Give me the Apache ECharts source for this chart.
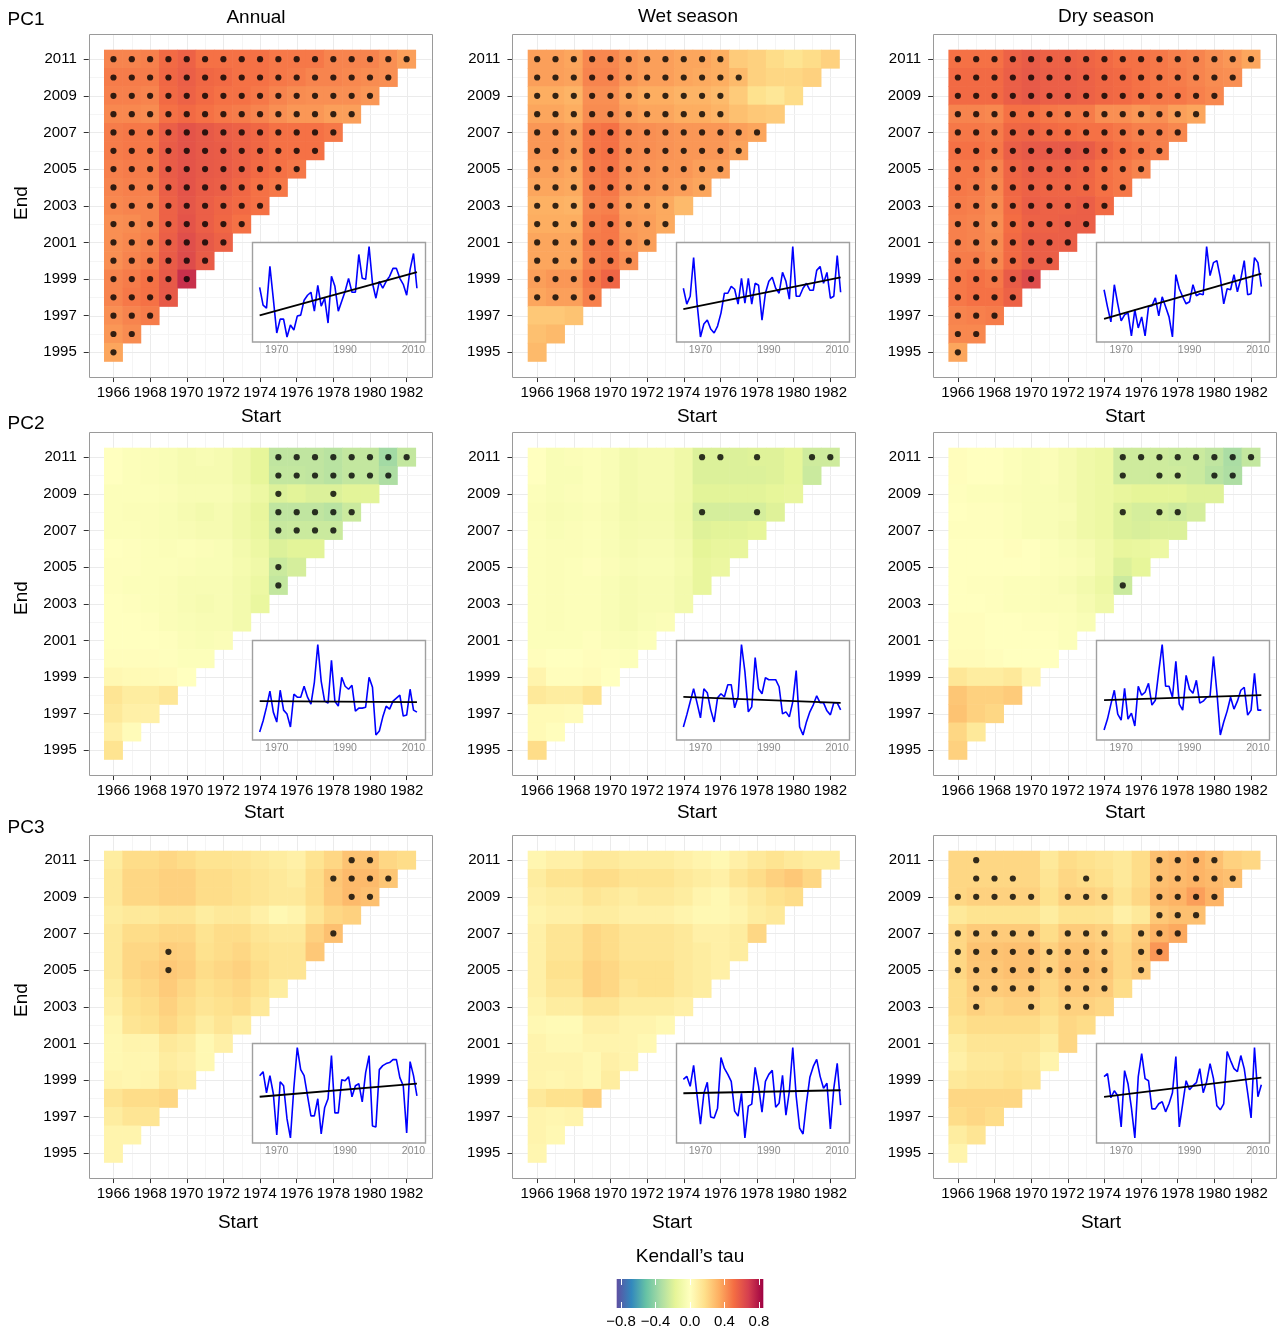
<!DOCTYPE html>
<html><head><meta charset="utf-8">
<script src="https://cdn.jsdelivr.net/npm/echarts@6/dist/echarts.min.js"></script>
<style>html,body{margin:0;padding:0;background:#fff}#c{width:1279px;height:1334px}</style>
</head><body><div id="c"></div><script>
// ---------- DATA ----------
const startYears = [1966,1967,1968,1969,1970,1971,1972,1973,1974,1975,1976,1977,1978,1979,1980,1981,1982];
const endYears = [1995,1996,1997,1998,1999,2000,2001,2002,2003,2004,2005,2006,2007,2008,2009,2010,2011];
const indexYears = [1965,1966,1967,1968,1969,1970,1971,1972,1973,1974,1975,1976,1977,1978,1979,1980,1981,1982,1983,1984,1985,1986,1987,1988,1989,1990,1991,1992,1993,1994,1995,1996,1997,1998,1999,2000,2001,2002,2003,2004,2005,2006,2007,2008,2009,2010,2011];
const seasons = ['Annual','Wet season','Dry season'];
const components = ['PC1','PC2','PC3'];
const legendTicks = [-0.8,-0.4,0.0,0.4,0.8];
const tauLimits = [-0.85,0.85];

// Kendall's tau, rows from End=2011 (top) down to End=1995; columns Start=1966...
const tauPC1Annual = [
[0.45,0.45,0.46,0.52,0.55,0.5,0.5,0.5,0.5,0.48,0.48,0.48,0.45,0.45,0.45,0.42,0.38],
[0.47,0.47,0.47,0.53,0.56,0.53,0.52,0.5,0.5,0.48,0.47,0.45,0.45,0.44,0.43,0.42],
[0.46,0.46,0.45,0.52,0.55,0.52,0.5,0.5,0.48,0.45,0.43,0.42,0.42,0.42,0.40],
[0.44,0.44,0.43,0.5,0.52,0.5,0.48,0.47,0.45,0.42,0.4,0.4,0.38,0.38],
[0.47,0.48,0.48,0.56,0.6,0.58,0.56,0.55,0.53,0.5,0.5,0.5,0.48],
[0.47,0.48,0.48,0.57,0.6,0.58,0.57,0.55,0.53,0.5,0.5,0.5],
[0.46,0.47,0.47,0.57,0.6,0.58,0.57,0.55,0.52,0.5,0.48],
[0.45,0.46,0.46,0.56,0.6,0.57,0.56,0.53,0.5,0.48],
[0.44,0.45,0.45,0.55,0.59,0.56,0.54,0.52,0.5],
[0.42,0.43,0.45,0.55,0.6,0.56,0.53,0.5],
[0.42,0.44,0.46,0.56,0.62,0.58,0.55],
[0.42,0.45,0.47,0.57,0.63,0.57],
[0.45,0.47,0.5,0.58,0.72],
[0.45,0.48,0.5,0.58],
[0.42,0.45,0.47],
[0.4,0.43],
[0.36]];
const tauPC1Wet = [
[0.38,0.38,0.36,0.44,0.44,0.4,0.38,0.38,0.36,0.36,0.34,0.24,0.22,0.18,0.15,0.18,0.22],
[0.38,0.38,0.37,0.45,0.45,0.4,0.38,0.38,0.36,0.35,0.34,0.3,0.22,0.2,0.2,0.22],
[0.34,0.34,0.32,0.42,0.42,0.36,0.34,0.34,0.32,0.32,0.3,0.24,0.16,0.13,0.18],
[0.36,0.36,0.34,0.43,0.43,0.38,0.36,0.36,0.34,0.34,0.32,0.28,0.25,0.24],
[0.4,0.4,0.38,0.48,0.5,0.43,0.42,0.41,0.4,0.4,0.4,0.38,0.36],
[0.4,0.4,0.38,0.48,0.5,0.43,0.42,0.41,0.4,0.4,0.4,0.37],
[0.38,0.38,0.36,0.47,0.49,0.42,0.41,0.4,0.4,0.38,0.38],
[0.36,0.36,0.35,0.46,0.48,0.41,0.4,0.39,0.38,0.36],
[0.33,0.33,0.32,0.45,0.46,0.38,0.37,0.35,0.3],
[0.34,0.34,0.34,0.46,0.48,0.39,0.38,0.35],
[0.36,0.36,0.36,0.47,0.48,0.4,0.38],
[0.36,0.36,0.36,0.46,0.48,0.42],
[0.38,0.4,0.4,0.48,0.54],
[0.36,0.38,0.38,0.46],
[0.25,0.25,0.27],
[0.28,0.3],
[0.3]];
const tauPC1Dry = [
[0.5,0.5,0.5,0.55,0.57,0.55,0.55,0.54,0.52,0.5,0.5,0.48,0.46,0.45,0.42,0.4,0.36],
[0.52,0.52,0.52,0.56,0.58,0.56,0.56,0.55,0.53,0.52,0.5,0.48,0.47,0.45,0.43,0.42],
[0.52,0.52,0.52,0.56,0.58,0.56,0.56,0.55,0.53,0.52,0.5,0.48,0.48,0.46,0.44],
[0.45,0.45,0.44,0.5,0.5,0.48,0.47,0.47,0.42,0.42,0.4,0.42,0.38,0.36],
[0.48,0.48,0.47,0.53,0.54,0.52,0.51,0.5,0.5,0.48,0.46,0.46,0.44],
[0.5,0.5,0.48,0.56,0.58,0.58,0.58,0.57,0.53,0.5,0.48,0.46],
[0.48,0.48,0.45,0.54,0.56,0.55,0.55,0.54,0.5,0.48,0.45],
[0.48,0.47,0.44,0.53,0.55,0.54,0.54,0.53,0.5,0.48],
[0.47,0.46,0.43,0.52,0.56,0.55,0.55,0.56,0.52],
[0.46,0.45,0.42,0.51,0.55,0.55,0.56,0.56],
[0.46,0.45,0.43,0.52,0.56,0.56,0.56],
[0.47,0.47,0.44,0.52,0.56,0.56],
[0.48,0.5,0.48,0.57,0.63],
[0.48,0.5,0.5,0.55],
[0.45,0.46,0.47],
[0.44,0.44],
[0.36]];
const tauPC2Annual = [
[0.0,-0.02,-0.03,-0.04,-0.06,-0.05,-0.06,-0.1,-0.16,-0.28,-0.28,-0.28,-0.3,-0.27,-0.27,-0.36,-0.27],
[0.0,-0.02,-0.03,-0.04,-0.06,-0.06,-0.06,-0.1,-0.16,-0.27,-0.27,-0.28,-0.3,-0.27,-0.27,-0.33],
[-0.02,-0.02,-0.02,-0.03,-0.05,-0.05,-0.05,-0.08,-0.12,-0.2,-0.18,-0.2,-0.2,-0.18,-0.18],
[-0.02,-0.03,-0.03,-0.04,-0.06,-0.08,-0.06,-0.1,-0.15,-0.28,-0.28,-0.28,-0.3,-0.25],
[-0.02,-0.02,-0.03,-0.04,-0.05,-0.06,-0.06,-0.1,-0.14,-0.26,-0.25,-0.25,-0.25],
[0.0,-0.01,-0.02,-0.03,-0.02,-0.03,-0.04,-0.08,-0.12,-0.2,-0.18,-0.18],
[-0.01,-0.01,-0.02,-0.02,-0.03,-0.04,-0.04,-0.07,-0.1,-0.25,-0.22],
[-0.01,-0.02,-0.02,-0.03,-0.05,-0.05,-0.05,-0.08,-0.12,-0.27],
[0.0,-0.01,-0.02,-0.03,-0.05,-0.06,-0.05,-0.08,-0.14],
[0.0,0.0,-0.01,-0.03,-0.04,-0.05,-0.05,-0.08],
[0.0,0.0,0.0,-0.01,-0.03,-0.04,-0.03],
[0.01,0.01,0.01,-0.01,-0.02,-0.02],
[0.04,0.03,0.03,0.02,0.0],
[0.14,0.1,0.1,0.13],
[0.12,0.08,0.08],
[0.08,0.02],
[0.15]];
const tauPC2Wet = [
[0.0,-0.04,-0.03,-0.02,-0.04,-0.08,-0.06,-0.06,-0.1,-0.2,-0.2,-0.2,-0.19,-0.19,-0.16,-0.24,-0.24],
[0.0,-0.04,-0.04,-0.02,-0.04,-0.08,-0.06,-0.06,-0.1,-0.2,-0.2,-0.2,-0.2,-0.19,-0.16,-0.25],
[-0.02,-0.04,-0.03,-0.02,-0.04,-0.08,-0.06,-0.06,-0.1,-0.18,-0.18,-0.18,-0.18,-0.16,-0.15],
[-0.03,-0.05,-0.04,-0.03,-0.05,-0.08,-0.07,-0.07,-0.11,-0.22,-0.22,-0.22,-0.22,-0.19],
[-0.02,-0.04,-0.03,-0.02,-0.04,-0.07,-0.06,-0.06,-0.1,-0.19,-0.18,-0.18,-0.16],
[-0.02,-0.03,-0.03,-0.02,-0.04,-0.06,-0.05,-0.05,-0.08,-0.17,-0.15,-0.15],
[-0.02,-0.03,-0.02,-0.01,-0.03,-0.05,-0.04,-0.04,-0.07,-0.15,-0.13],
[-0.02,-0.03,-0.02,-0.02,-0.04,-0.06,-0.05,-0.05,-0.08,-0.15],
[-0.02,-0.03,-0.02,-0.02,-0.04,-0.06,-0.05,-0.05,-0.08],
[-0.02,-0.03,-0.02,-0.02,-0.04,-0.06,-0.04,-0.03],
[-0.02,-0.02,-0.02,-0.01,-0.03,-0.04,-0.02],
[0.01,0.0,0.0,0.01,-0.01,-0.02],
[0.06,0.01,0.01,0.02,0.0],
[0.12,0.1,0.1,0.15],
[0.03,0.03,0.02],
[0.03,0.01],
[0.18]];
const tauPC2Dry = [
[0.01,0.0,0.0,-0.02,-0.04,-0.03,-0.06,-0.1,-0.12,-0.24,-0.24,-0.24,-0.25,-0.25,-0.28,-0.34,-0.27],
[0.01,0.0,0.0,-0.02,-0.04,-0.03,-0.06,-0.1,-0.12,-0.24,-0.24,-0.24,-0.24,-0.25,-0.3,-0.33],
[-0.01,-0.02,-0.02,-0.03,-0.04,-0.04,-0.06,-0.1,-0.12,-0.15,-0.17,-0.17,-0.17,-0.19,-0.19],
[0.0,-0.01,-0.01,-0.02,-0.04,-0.04,-0.05,-0.1,-0.12,-0.2,-0.22,-0.22,-0.24,-0.22],
[-0.01,-0.01,-0.01,-0.02,-0.04,-0.04,-0.06,-0.1,-0.12,-0.2,-0.21,-0.2,-0.2],
[0.0,0.0,0.0,0.01,0.0,-0.02,-0.04,-0.06,-0.1,-0.15,-0.14,-0.12],
[0.0,0.0,0.0,0.0,0.0,-0.02,-0.03,-0.05,-0.1,-0.2,-0.16],
[0.0,-0.01,-0.01,-0.02,-0.02,-0.03,-0.05,-0.08,-0.12,-0.25],
[0.0,0.0,-0.01,-0.02,-0.02,-0.03,-0.03,-0.06,-0.1],
[0.01,0.01,0.0,0.0,-0.01,-0.01,-0.02,-0.04],
[0.01,0.01,0.0,0.0,0.0,0.0,-0.02],
[0.02,0.02,0.01,0.0,0.0,0.0],
[0.13,0.1,0.1,0.12,0.05],
[0.26,0.22,0.22,0.24],
[0.27,0.22,0.2],
[0.2,0.12],
[0.22]];
const tauPC3Annual = [
[0.1,0.18,0.18,0.2,0.18,0.15,0.15,0.14,0.12,0.1,0.08,0.15,0.2,0.27,0.27,0.2,0.18],
[0.12,0.2,0.2,0.22,0.22,0.18,0.18,0.16,0.14,0.12,0.1,0.18,0.26,0.3,0.3,0.26],
[0.12,0.2,0.2,0.22,0.22,0.18,0.18,0.16,0.14,0.12,0.12,0.18,0.25,0.3,0.28],
[0.1,0.12,0.12,0.14,0.14,0.1,0.12,0.12,0.08,0.04,0.06,0.14,0.2,0.22],
[0.12,0.18,0.18,0.2,0.2,0.15,0.18,0.18,0.14,0.12,0.12,0.22,0.28],
[0.12,0.2,0.2,0.23,0.22,0.16,0.18,0.2,0.16,0.14,0.14,0.25],
[0.12,0.2,0.22,0.25,0.23,0.18,0.2,0.22,0.18,0.14,0.14],
[0.1,0.18,0.2,0.24,0.2,0.16,0.18,0.2,0.16,0.1],
[0.08,0.16,0.18,0.22,0.18,0.14,0.16,0.18,0.12],
[0.05,0.14,0.16,0.2,0.16,0.1,0.14,0.1],
[0.04,0.06,0.06,0.12,0.1,0.04,0.08],
[0.04,0.05,0.05,0.1,0.08,0.04],
[0.06,0.05,0.06,0.12,0.1],
[0.14,0.18,0.18,0.2],
[0.1,0.14,0.14],
[0.06,0.06],
[0.06]];
const tauPC3Wet = [
[0.05,0.08,0.08,0.12,0.12,0.1,0.1,0.1,0.08,0.06,0.04,0.08,0.12,0.15,0.12,0.1,0.1],
[0.1,0.15,0.15,0.18,0.18,0.15,0.15,0.15,0.12,0.1,0.08,0.14,0.18,0.22,0.25,0.2],
[0.08,0.1,0.1,0.14,0.12,0.1,0.12,0.12,0.1,0.06,0.04,0.08,0.12,0.16,0.18],
[0.06,0.08,0.08,0.1,0.1,0.08,0.08,0.08,0.06,0.04,0.04,0.06,0.1,0.12],
[0.08,0.14,0.14,0.2,0.18,0.14,0.14,0.14,0.12,0.08,0.08,0.1,0.2],
[0.08,0.14,0.14,0.2,0.18,0.14,0.14,0.14,0.12,0.1,0.08,0.1],
[0.08,0.16,0.16,0.22,0.2,0.16,0.16,0.16,0.12,0.1,0.08],
[0.08,0.14,0.14,0.22,0.2,0.14,0.16,0.16,0.12,0.1],
[0.06,0.1,0.1,0.14,0.14,0.1,0.1,0.1,0.08],
[0.04,0.03,0.03,0.08,0.08,0.06,0.06,0.04],
[0.06,0.04,0.04,0.06,0.06,0.06,0.04],
[0.06,0.06,0.06,0.04,0.08,0.06],
[0.06,0.05,0.06,0.04,0.1],
[0.12,0.16,0.16,0.22],
[0.06,0.05,0.06],
[0.06,0.04],
[0.05]];
const tauPC3Dry = [
[0.2,0.2,0.2,0.2,0.2,0.12,0.18,0.16,0.14,0.12,0.18,0.28,0.3,0.32,0.28,0.22,0.2],
[0.2,0.2,0.2,0.2,0.2,0.14,0.2,0.18,0.16,0.12,0.18,0.28,0.3,0.32,0.3,0.28],
[0.2,0.22,0.22,0.22,0.22,0.16,0.22,0.22,0.2,0.14,0.2,0.3,0.32,0.38,0.32],
[0.12,0.15,0.15,0.15,0.15,0.1,0.15,0.15,0.14,0.08,0.12,0.25,0.28,0.28],
[0.2,0.24,0.24,0.24,0.24,0.18,0.24,0.24,0.22,0.18,0.24,0.32,0.35],
[0.2,0.27,0.27,0.28,0.28,0.22,0.27,0.27,0.24,0.2,0.26,0.4],
[0.2,0.26,0.26,0.28,0.28,0.22,0.28,0.28,0.26,0.2,0.24],
[0.18,0.24,0.24,0.25,0.25,0.2,0.25,0.25,0.24,0.18],
[0.18,0.22,0.2,0.22,0.22,0.18,0.22,0.22,0.2],
[0.15,0.18,0.18,0.18,0.18,0.14,0.2,0.18],
[0.1,0.14,0.14,0.14,0.14,0.1,0.2],
[0.08,0.12,0.12,0.14,0.12,0.06],
[0.12,0.14,0.14,0.16,0.14],
[0.2,0.2,0.2,0.2],
[0.18,0.2,0.18],
[0.1,0.14],
[0.06]];

// significance marks (1 = dot), same layout as the tau rows
const sigPC1Annual = ['11111111111111111','1111111111111111','111111111111111','11111111111111','1111111111111','111111111111','11111111111','1111111111','111111111','11111111','1111111','111111','11111','1111','111','11','1'];
const sigPC1Wet = ['11111111111000000','1111111111110000','111111111110000','11111111111000','1111111111111','111111111111','11111111111','1111111111','111111110','11111111','1111111','111111','11111','1111','000','00','0'];
const sigPC1Dry = ['11111111111111111','1111111111111111','111111111111111','11111111111111','1111111111111','111111111111','11111111111','1111111111','111111111','11111111','1111111','111111','11111','1111','111','11','1'];
const sigPC2Annual = ['00000000011111111','0000000001111111','000000000100100','00000000011111','0000000001111','000000000000','00000000010','0000000001','000000000','00000000','0000000','000000','00000','0000','000','00','0'];
const sigPC2Wet = ['00000000011010011','0000000000000000','000000000000000','00000000010010','0000000000000','000000000000','00000000000','0000000000','000000000','00000000','0000000','000000','00000','0000','000','00','0'];
const sigPC2Dry = ['00000000011111111','0000000001011011','000000000000000','00000000010110','0000000000000','000000000000','00000000000','0000000001','000000000','00000000','0000000','000000','00000','0000','000','00','0'];
const sigPC3Annual = ['00000000000001100','0000000000001111','000000000000011','00000000000000','0000000000001','000100000000','00010000000','0000000000','000000000','00000000','0000000','000000','00000','0000','000','00','0'];
const sigPC3Wet = ['00000000000000000','0000000000000000','000000000000000','00000000000000','0000000000000','000000000000','00000000000','0000000000','000000000','00000000','0000000','000000','00000','0000','000','00','0'];
const sigPC3Dry = ['01000000000111100','0111000100011111','111110111001111','00000000000111','1111101110111','111111111011','11111111101','0111101110','010010110','00000000','0000000','000000','00000','0000','000','00','0'];

// inset PC time series 1965-2011 (arbitrary units)
const idxPC1Annual = [54,36,33,75,42,8,22,22,4,16,11,25,26,41,46,49,30,56,35,43,18,65,55,30,40,50,63,49,49,87,63,62,95,58,43,60,53,60,65,73,73,63,57,46,72,88,53];
const idxPC1Wet = [53,37,45,84,38,4,17,21,12,8,15,28,48,48,55,52,37,63,38,63,37,58,56,21,48,60,64,53,48,69,60,42,95,45,45,53,58,51,51,71,75,58,69,43,45,86,49];
const idxPC1Dry = [52,35,20,57,38,21,27,29,6,32,14,25,6,35,36,44,26,45,35,25,5,67,53,45,38,40,57,46,48,47,95,66,79,81,64,38,53,52,67,50,63,81,47,48,84,79,55];
const idxPC2Annual = [7,18,32,48,27,17,49,29,25,12,45,42,42,53,42,35,57,95,58,38,36,79,38,33,62,53,50,54,28,31,31,32,62,52,4,8,22,33,30,38,41,44,23,24,50,29,27];
const idxPC2Wet = [13,25,38,51,37,22,51,47,30,18,42,46,43,55,55,32,43,95,68,28,33,82,51,46,62,60,60,60,53,26,28,23,38,69,13,5,18,28,35,44,37,37,29,25,37,37,30];
const idxPC2Dry = [9,20,35,49,25,19,51,20,26,13,53,44,47,56,34,39,68,95,53,53,42,78,35,29,64,50,46,59,36,38,42,43,83,47,4,17,28,42,30,38,49,52,24,29,66,29,29];
const idxPC3Annual = [65,69,48,65,47,6,59,55,22,3,53,93,71,65,45,25,25,42,7,33,42,85,28,28,61,60,64,44,55,57,39,68,85,15,14,71,75,77,78,81,81,63,55,8,79,65,45];
const idxPC3Wet = [62,65,55,76,46,17,48,59,24,23,33,84,73,67,60,30,25,48,3,35,37,74,55,29,60,67,71,34,38,66,26,50,94,45,13,7,38,64,75,82,65,53,58,12,53,78,36];
const idxPC3Dry = [64,67,43,50,45,14,70,57,33,3,64,87,62,60,32,32,37,39,29,37,48,84,14,37,60,51,55,58,72,48,59,77,62,35,31,37,89,80,72,69,85,72,48,23,93,44,56];

// linear trend line values at 1965 and 2011
const trendPC1Annual = [25.7,69.3];
const trendPC1Wet = [32,64];
const trendPC1Dry = [23,68];
const trendPC2Annual = [38,37];
const trendPC2Wet = [43,37];
const trendPC2Dry = [39,44];
const trendPC3Annual = [44,57];
const trendPC3Wet = [48,51];
const trendPC3Dry = [44,63];

const panels = [
  {tau: tauPC1Annual, sig: sigPC1Annual, idx: idxPC1Annual, trend: trendPC1Annual},
  {tau: tauPC1Wet, sig: sigPC1Wet, idx: idxPC1Wet, trend: trendPC1Wet},
  {tau: tauPC1Dry, sig: sigPC1Dry, idx: idxPC1Dry, trend: trendPC1Dry},
  {tau: tauPC2Annual, sig: sigPC2Annual, idx: idxPC2Annual, trend: trendPC2Annual},
  {tau: tauPC2Wet, sig: sigPC2Wet, idx: idxPC2Wet, trend: trendPC2Wet},
  {tau: tauPC2Dry, sig: sigPC2Dry, idx: idxPC2Dry, trend: trendPC2Dry},
  {tau: tauPC3Annual, sig: sigPC3Annual, idx: idxPC3Annual, trend: trendPC3Annual},
  {tau: tauPC3Wet, sig: sigPC3Wet, idx: idxPC3Wet, trend: trendPC3Wet},
  {tau: tauPC3Dry, sig: sigPC3Dry, idx: idxPC3Dry, trend: trendPC3Dry}
];

// ---------- STYLE / LAYOUT ----------
const FONT = '"Liberation Sans", Arial, sans-serif';
const SPECTRAL = ['#5E4FA2','#3288BD','#66C2A5','#ABDDA4','#E6F598','#FFFFBF','#FEE08B','#FDAE61','#F46D43','#D53E4F','#9E0142'];
const COL_LEFT = [104.3, 528, 948.7];
const ROW_TOP = [50, 448, 851];
const TILE = 311.5;
const EXP = TILE / 17 * 0.85;
const INSET_W = 173, INSET_H = 99.5;
const TICK_FONT = 15;

const grids = [], xAxes = [], yAxes = [], series = [], graphics = [], tileSeries = [];
const startCats = startYears.map(String), endCats = endYears.map(String), idxCats = indexYears.map(String);

function txt(t, x, y, size, rot) {
  const e = {type: 'text', x: x, y: y, z: 10, silent: true,
    style: {text: t, font: size + 'px ' + FONT, fill: '#000', align: 'center', verticalAlign: 'middle', textAlign: 'center', textVerticalAlign: 'middle'}};
  if (rot) e.rotation = rot;
  return e;
}

panels.forEach((p, n) => {
  const r = Math.floor(n / 3), c = n % 3;
  const L = COL_LEFT[c], T = ROW_TOP[r];
  const gi = grids.length;
  grids.push({left: L, top: T, width: TILE, height: TILE});
  xAxes.push({gridIndex: gi, type: 'category', data: startCats, boundaryGap: true, offset: EXP,
    axisLine: {show: false}, splitLine: {show: false},
    axisTick: {show: true, alignWithLabel: true, interval: 1, length: 5, lineStyle: {color: '#333', width: 1}},
    axisLabel: {interval: 1, fontSize: TICK_FONT, color: '#000', margin: 8, fontFamily: FONT}});
  yAxes.push({gridIndex: gi, type: 'category', data: endCats, boundaryGap: true, offset: EXP,
    axisLine: {show: false}, splitLine: {show: false},
    axisTick: {show: true, alignWithLabel: true, interval: 1, length: 5, lineStyle: {color: '#333', width: 1}},
    axisLabel: {interval: 1, fontSize: TICK_FONT, color: '#000', margin: 12, fontFamily: FONT}});
  // grid lines
  series.push({type: 'custom', xAxisIndex: gi, yAxisIndex: gi, z: 0, silent: true,
    data: startCats.map((s, i) => [s, endCats[0], i % 2]),
    renderItem: (params, api) => {
      const cs = params.coordSys, ext = 0.85 * api.size([1, 1])[0];
      const x = Math.round(api.coord([api.value(0), api.value(1)])[0]) + 0.5;
      const major = api.value(2) === 0;
      return {type: 'line', shape: {x1: x, y1: cs.y - ext, x2: x, y2: cs.y + cs.height + ext},
        style: {stroke: major ? '#EBEBEB' : '#F5F5F5', lineWidth: 1}};
    }});
  series.push({type: 'custom', xAxisIndex: gi, yAxisIndex: gi, z: 0, silent: true,
    data: endCats.map((e, i) => [startCats[0], e, i % 2]),
    renderItem: (params, api) => {
      const cs = params.coordSys, ext = 0.85 * api.size([1, 1])[1];
      const y = Math.round(api.coord([api.value(0), api.value(1)])[1]) + 0.5;
      const major = api.value(2) === 0;
      return {type: 'line', shape: {x1: cs.x - ext, y1: y, x2: cs.x + cs.width + ext, y2: y},
        style: {stroke: major ? '#EBEBEB' : '#F5F5F5', lineWidth: 1}};
    }});
  // tiles
  const tiles = [], dots = [];
  p.tau.forEach((row, k) => {
    const end = endCats[endCats.length - 1 - k];
    row.forEach((v, j) => {
      tiles.push([startCats[j], end, v]);
      if (p.sig[k][j] === '1') dots.push([startCats[j], end]);
    });
  });
  tileSeries.push(series.length);
  series.push({type: 'custom', xAxisIndex: gi, yAxisIndex: gi, z: 2, silent: true,
    dimensions: ['start', 'end', 'tau'], encode: {x: 0, y: 1},
    data: tiles,
    renderItem: (params, api) => {
      const pt = api.coord([api.value(0), api.value(1)]);
      const s = api.size([1, 1]);
      return {type: 'rect', shape: {x: pt[0] - s[0] / 2 - 0.3, y: pt[1] - s[1] / 2 - 0.3, width: s[0] + 0.6, height: s[1] + 0.6},
        style: {fill: api.visual('color')}};
    }});
  series.push({type: 'scatter', xAxisIndex: gi, yAxisIndex: gi, z: 5, silent: true,
    symbol: 'circle', symbolSize: 6.2, itemStyle: {color: '#000'}, data: dots});
  // panel frame
  graphics.push({type: 'rect', z: 6, silent: true,
    shape: {x: Math.round(L - EXP) + 0.5, y: Math.round(T - EXP) + 0.5, width: Math.round(TILE + 2 * EXP), height: Math.round(TILE + 2 * EXP)},
    style: {fill: 'none', stroke: '#9A9A9A', lineWidth: 1}});
  // inset
  const bR = L + TILE + 9, bL = bR - INSET_W, bB = T + TILE - 20, bT = bB - INSET_H;
  graphics.push({type: 'rect', z: 1, silent: true,
    shape: {x: Math.round(bL) + 0.5, y: Math.round(bT) + 0.5, width: INSET_W, height: INSET_H},
    style: {fill: '#fff', stroke: '#A0A0A0', lineWidth: 1.4}});
  const span = indexYears[indexYears.length - 1] - indexYears[0];
  const padX = INSET_W * (span * 0.05) / (span * 1.1);
  const ii = grids.length;
  grids.push({left: bL + padX, top: bT, width: INSET_W - 2 * padX, height: INSET_H});
  xAxes.push({gridIndex: ii, type: 'category', data: idxCats, boundaryGap: false,
    axisLine: {show: false}, axisTick: {show: false}, splitLine: {show: false},
    axisLabel: {interval: (i, v) => Number(v) % 20 === 10, fontSize: 10.5, color: '#8A8A8A', margin: 3, fontFamily: FONT}});
  yAxes.push({gridIndex: ii, type: 'value', show: false, splitLine: {show: false},
    min: v => v.min - 0.05 * (v.max - v.min), max: v => v.max + 0.05 * (v.max - v.min)});
  series.push({type: 'line', xAxisIndex: ii, yAxisIndex: ii, z: 4, silent: true, showSymbol: false,
    data: p.idx, lineStyle: {color: '#0000FF', width: 1.6}});
  series.push({type: 'line', xAxisIndex: ii, yAxisIndex: ii, z: 5, silent: true, showSymbol: false,
    data: [[idxCats[0], p.trend[0]], [idxCats[idxCats.length - 1], p.trend[1]]],
    lineStyle: {color: '#000', width: 1.8}});
});

// legend colour bar
const lg = grids.length;
grids.push({left: 621, top: 1279, width: 138, height: 29});
const legAxisBase = {gridIndex: lg, type: 'value', min: legendTicks[0], max: legendTicks[legendTicks.length - 1],
  interval: legendTicks[1] - legendTicks[0], z: 5, axisLine: {show: false}, splitLine: {show: false},
  axisTick: {show: true, inside: true, length: 6, lineStyle: {color: '#fff', width: 1}}};
xAxes.push(Object.assign({}, legAxisBase, {position: 'bottom',
  axisLabel: {fontSize: TICK_FONT, color: '#000', margin: 6, fontFamily: FONT,
    formatter: v => (v < 0 ? '\u2212' : '') + Math.abs(v).toFixed(1)}}));
xAxes.push(Object.assign({}, legAxisBase, {position: 'top', axisLabel: {show: false}}));
yAxes.push({gridIndex: lg, type: 'value', min: 0, max: 1, show: false});
series.push({type: 'custom', xAxisIndex: xAxes.length - 2, yAxisIndex: yAxes.length - 1, z: 1, silent: true, clip: false,
  data: [[tauLimits[0], tauLimits[1]]],
  renderItem: (params, api) => {
    const a = api.coord([api.value(0), 0]), b = api.coord([api.value(1), 1]);
    return {type: 'rect', shape: {x: a[0], y: b[1], width: b[0] - a[0], height: a[1] - b[1]},
      style: {fill: new echarts.graphic.LinearGradient(0, 0, 1, 0, SPECTRAL.map((col, i) => ({offset: i / (SPECTRAL.length - 1), color: col})))}};
  }});

// text
graphics.push(txt(seasons[0], 256, 18, 19), txt(seasons[1], 688, 17, 19), txt(seasons[2], 1106, 17, 19));
graphics.push(txt(components[0], 26, 20, 19), txt(components[1], 26, 424, 19), txt(components[2], 26, 828, 19));
graphics.push(txt('End', 22, 203, 19, Math.PI / 2), txt('End', 22, 598, 19, Math.PI / 2), txt('End', 22, 1000, 19, Math.PI / 2));
[[261, 417], [697, 417], [1125, 417], [264, 813], [697, 813], [1125, 813], [238, 1223], [672, 1223], [1101, 1223]]
  .forEach(q => graphics.push(txt('Start', q[0], q[1], 19)));
graphics.push(txt('Kendall\u2019s tau', 690, 1257, 19));

const chart = echarts.init(document.getElementById('c'), null, {renderer: 'canvas'});
chart.setOption({
  animation: false,
  backgroundColor: '#fff',
  grid: grids, xAxis: xAxes, yAxis: yAxes,
  visualMap: {type: 'continuous', show: false, min: tauLimits[0], max: tauLimits[1], dimension: 2,
    seriesIndex: tileSeries, inRange: {color: SPECTRAL}},
  graphic: {elements: graphics},
  series: series
});
</script></body></html>
